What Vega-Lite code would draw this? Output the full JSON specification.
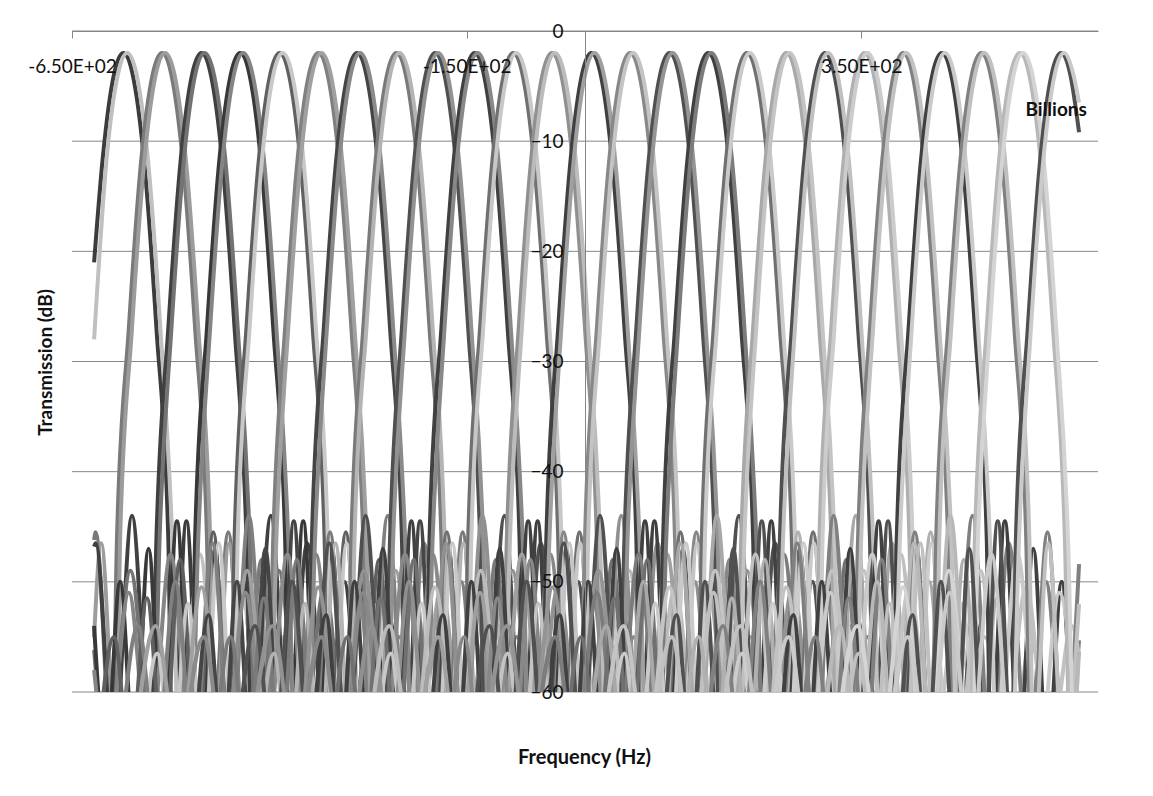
{
"$schema":"https://vega.github.io/schema/vega-lite/v6.json",
"width":1026,"height":661,
"autosize":{"type":"none"},
"padding":{"left":72,"top":31,"right":55,"bottom":104},
"background":"#ffffff",
"config":{"view":{"stroke":null},"font":"Lato"},
"layer":[
{"data":{"values":[{"g":0},{"g":-10},{"g":-20},{"g":-30},{"g":-40},{"g":-50},{"g":-60}]},
"mark":{"type":"rule","color":"#868686","strokeWidth":1},
"encoding":{"y":{"field":"g","type":"quantitative"}}},
{"data":{"values":[
{"s":0,"x":-622,"y":-21},{"s":0,"x":-611,"y":-11.5},{"s":0,"x":-597,"y":-4},{"s":0,"x":-585,"y":-2},{"s":0,"x":-573,"y":-4},{"s":0,"x":-559,"y":-11.5},{"s":0,"x":-543,"y":-27},{"s":0,"x":-528,"y":-46},{"s":0,"x":-523,"y":-66},{"s":0,"x":-505,"y":-44.5},{"s":0,"x":-487,"y":-66},{"s":0,"x":-469,"y":-47},{"s":0,"x":-451,"y":-66},{"s":0,"x":-433,"y":-50},{"s":0,"x":-415,"y":-66},{"s":0,"x":-397,"y":-53},{"s":0,"x":-379,"y":-66},
{"s":1,"x":-622,"y":-28},{"s":1,"x":-606,"y":-11.5},{"s":1,"x":-592,"y":-4},{"s":1,"x":-580,"y":-2},{"s":1,"x":-568,"y":-4},{"s":1,"x":-554,"y":-11.5},{"s":1,"x":-538,"y":-27},{"s":1,"x":-523,"y":-46},{"s":1,"x":-514,"y":-66},{"s":1,"x":-488,"y":-47.5},{"s":1,"x":-461,"y":-66},{"s":1,"x":-435,"y":-51},{"s":1,"x":-408,"y":-66},{"s":1,"x":-382,"y":-55},{"s":1,"x":-355,"y":-66},
{"s":2,"x":-622,"y":-46.2},{"s":2,"x":-620,"y":-45.5},{"s":2,"x":-599,"y":-66},{"s":2,"x":-593,"y":-46},{"s":2,"x":-578,"y":-27},{"s":2,"x":-562,"y":-11.5},{"s":2,"x":-548,"y":-4},{"s":2,"x":-536,"y":-2},{"s":2,"x":-524,"y":-4},{"s":2,"x":-510,"y":-11.5},{"s":2,"x":-494,"y":-27},{"s":2,"x":-479,"y":-46},{"s":2,"x":-473,"y":-66},{"s":2,"x":-452,"y":-45.5},{"s":2,"x":-431,"y":-66},{"s":2,"x":-410,"y":-48},{"s":2,"x":-389,"y":-66},{"s":2,"x":-368,"y":-51.5},{"s":2,"x":-347,"y":-66},{"s":2,"x":-326,"y":-55},{"s":2,"x":-305,"y":-66},
{"s":3,"x":-622,"y":-55},{"s":3,"x":-613,"y":-46.5},{"s":3,"x":-594,"y":-66},{"s":3,"x":-589,"y":-46},{"s":3,"x":-574,"y":-27},{"s":3,"x":-558,"y":-11.5},{"s":3,"x":-544,"y":-4},{"s":3,"x":-532,"y":-2},{"s":3,"x":-520,"y":-4},{"s":3,"x":-506,"y":-11.5},{"s":3,"x":-490,"y":-27},{"s":3,"x":-475,"y":-46},{"s":3,"x":-470,"y":-66},{"s":3,"x":-451,"y":-46.5},{"s":3,"x":-431,"y":-66},{"s":3,"x":-412,"y":-52},{"s":3,"x":-392,"y":-66},{"s":3,"x":-373,"y":-56.5},{"s":3,"x":-353,"y":-66},
{"s":4,"x":-622,"y":-46.8},{"s":4,"x":-620,"y":-46.5},{"s":4,"x":-597,"y":-66},{"s":4,"x":-574,"y":-44},{"s":4,"x":-550,"y":-66},{"s":4,"x":-543,"y":-46},{"s":4,"x":-528,"y":-27},{"s":4,"x":-512,"y":-11.5},{"s":4,"x":-498,"y":-4},{"s":4,"x":-486,"y":-2},{"s":4,"x":-474,"y":-4},{"s":4,"x":-460,"y":-11.5},{"s":4,"x":-444,"y":-27},{"s":4,"x":-429,"y":-46},{"s":4,"x":-422,"y":-66},{"s":4,"x":-398,"y":-44},{"s":4,"x":-375,"y":-66},{"s":4,"x":-352,"y":-46.5},{"s":4,"x":-328,"y":-66},{"s":4,"x":-305,"y":-50},{"s":4,"x":-281,"y":-66},{"s":4,"x":-258,"y":-54},{"s":4,"x":-234,"y":-66},
{"s":5,"x":-622,"y":-56.2},{"s":5,"x":-605,"y":-66},{"s":5,"x":-576,"y":-49},{"s":5,"x":-547,"y":-66},{"s":5,"x":-539,"y":-46},{"s":5,"x":-524,"y":-27},{"s":5,"x":-508,"y":-11.5},{"s":5,"x":-494,"y":-4},{"s":5,"x":-482,"y":-2},{"s":5,"x":-470,"y":-4},{"s":5,"x":-456,"y":-11.5},{"s":5,"x":-440,"y":-27},{"s":5,"x":-425,"y":-46},{"s":5,"x":-417,"y":-66},{"s":5,"x":-388,"y":-49},{"s":5,"x":-359,"y":-66},{"s":5,"x":-330,"y":-50.5},{"s":5,"x":-301,"y":-66},{"s":5,"x":-272,"y":-54},{"s":5,"x":-243,"y":-66},
{"s":6,"x":-622,"y":-54},{"s":6,"x":-607,"y":-66},{"s":6,"x":-589,"y":-50},{"s":6,"x":-571,"y":-66},{"s":6,"x":-553,"y":-47},{"s":6,"x":-535,"y":-66},{"s":6,"x":-517,"y":-44.5},{"s":6,"x":-499,"y":-66},{"s":6,"x":-494,"y":-46},{"s":6,"x":-479,"y":-27},{"s":6,"x":-463,"y":-11.5},{"s":6,"x":-449,"y":-4},{"s":6,"x":-437,"y":-2},{"s":6,"x":-425,"y":-4},{"s":6,"x":-411,"y":-11.5},{"s":6,"x":-395,"y":-27},{"s":6,"x":-380,"y":-46},{"s":6,"x":-375,"y":-66},{"s":6,"x":-357,"y":-44.5},{"s":6,"x":-339,"y":-66},{"s":6,"x":-321,"y":-47},{"s":6,"x":-303,"y":-66},{"s":6,"x":-285,"y":-50},{"s":6,"x":-267,"y":-66},{"s":6,"x":-249,"y":-53},{"s":6,"x":-231,"y":-66},
{"s":7,"x":-622,"y":-58},{"s":7,"x":-605,"y":-66},{"s":7,"x":-578,"y":-51},{"s":7,"x":-552,"y":-66},{"s":7,"x":-525,"y":-47.5},{"s":7,"x":-499,"y":-66},{"s":7,"x":-490,"y":-46},{"s":7,"x":-475,"y":-27},{"s":7,"x":-459,"y":-11.5},{"s":7,"x":-445,"y":-4},{"s":7,"x":-433,"y":-2},{"s":7,"x":-421,"y":-4},{"s":7,"x":-407,"y":-11.5},{"s":7,"x":-391,"y":-27},{"s":7,"x":-376,"y":-46},{"s":7,"x":-367,"y":-66},{"s":7,"x":-341,"y":-47.5},{"s":7,"x":-314,"y":-66},{"s":7,"x":-288,"y":-51},{"s":7,"x":-261,"y":-66},{"s":7,"x":-235,"y":-55},{"s":7,"x":-208,"y":-66},
{"s":8,"x":-618,"y":-66},{"s":8,"x":-597,"y":-55},{"s":8,"x":-576,"y":-66},{"s":8,"x":-555,"y":-51.5},{"s":8,"x":-534,"y":-66},{"s":8,"x":-513,"y":-48},{"s":8,"x":-492,"y":-66},{"s":8,"x":-471,"y":-45.5},{"s":8,"x":-450,"y":-66},{"s":8,"x":-444,"y":-46},{"s":8,"x":-429,"y":-27},{"s":8,"x":-413,"y":-11.5},{"s":8,"x":-399,"y":-4},{"s":8,"x":-387,"y":-2},{"s":8,"x":-375,"y":-4},{"s":8,"x":-361,"y":-11.5},{"s":8,"x":-345,"y":-27},{"s":8,"x":-330,"y":-46},{"s":8,"x":-324,"y":-66},{"s":8,"x":-303,"y":-45.5},{"s":8,"x":-282,"y":-66},{"s":8,"x":-261,"y":-48},{"s":8,"x":-240,"y":-66},{"s":8,"x":-219,"y":-51.5},{"s":8,"x":-198,"y":-66},{"s":8,"x":-177,"y":-55},{"s":8,"x":-156,"y":-66},
{"s":9,"x":-562,"y":-66},{"s":9,"x":-542,"y":-56.5},{"s":9,"x":-523,"y":-66},{"s":9,"x":-503,"y":-52},{"s":9,"x":-484,"y":-66},{"s":9,"x":-464,"y":-46.5},{"s":9,"x":-445,"y":-66},{"s":9,"x":-440,"y":-46},{"s":9,"x":-425,"y":-27},{"s":9,"x":-409,"y":-11.5},{"s":9,"x":-395,"y":-4},{"s":9,"x":-383,"y":-2},{"s":9,"x":-371,"y":-4},{"s":9,"x":-357,"y":-11.5},{"s":9,"x":-341,"y":-27},{"s":9,"x":-326,"y":-46},{"s":9,"x":-321,"y":-66},{"s":9,"x":-302,"y":-46.5},{"s":9,"x":-282,"y":-66},{"s":9,"x":-263,"y":-52},{"s":9,"x":-243,"y":-66},{"s":9,"x":-224,"y":-56.5},{"s":9,"x":-204,"y":-66},
{"s":10,"x":-590,"y":-66},{"s":10,"x":-566,"y":-54},{"s":10,"x":-543,"y":-66},{"s":10,"x":-519,"y":-50},{"s":10,"x":-496,"y":-66},{"s":10,"x":-472,"y":-46.5},{"s":10,"x":-449,"y":-66},{"s":10,"x":-426,"y":-44},{"s":10,"x":-402,"y":-66},{"s":10,"x":-395,"y":-46},{"s":10,"x":-380,"y":-27},{"s":10,"x":-364,"y":-11.5},{"s":10,"x":-350,"y":-4},{"s":10,"x":-338,"y":-2},{"s":10,"x":-326,"y":-4},{"s":10,"x":-312,"y":-11.5},{"s":10,"x":-296,"y":-27},{"s":10,"x":-281,"y":-46},{"s":10,"x":-274,"y":-66},{"s":10,"x":-250,"y":-44},{"s":10,"x":-227,"y":-66},{"s":10,"x":-204,"y":-46.5},{"s":10,"x":-180,"y":-66},{"s":10,"x":-157,"y":-50},{"s":10,"x":-133,"y":-66},{"s":10,"x":-110,"y":-54},{"s":10,"x":-86,"y":-66},
{"s":11,"x":-573,"y":-66},{"s":11,"x":-544,"y":-54},{"s":11,"x":-515,"y":-66},{"s":11,"x":-486,"y":-50.5},{"s":11,"x":-457,"y":-66},{"s":11,"x":-428,"y":-49},{"s":11,"x":-399,"y":-66},{"s":11,"x":-391,"y":-46},{"s":11,"x":-376,"y":-27},{"s":11,"x":-360,"y":-11.5},{"s":11,"x":-346,"y":-4},{"s":11,"x":-334,"y":-2},{"s":11,"x":-322,"y":-4},{"s":11,"x":-308,"y":-11.5},{"s":11,"x":-292,"y":-27},{"s":11,"x":-277,"y":-46},{"s":11,"x":-269,"y":-66},{"s":11,"x":-240,"y":-49},{"s":11,"x":-211,"y":-66},{"s":11,"x":-182,"y":-50.5},{"s":11,"x":-153,"y":-66},{"s":11,"x":-124,"y":-54},{"s":11,"x":-95,"y":-66},
{"s":12,"x":-495,"y":-66},{"s":12,"x":-477,"y":-53},{"s":12,"x":-459,"y":-66},{"s":12,"x":-441,"y":-50},{"s":12,"x":-423,"y":-66},{"s":12,"x":-405,"y":-47},{"s":12,"x":-387,"y":-66},{"s":12,"x":-369,"y":-44.5},{"s":12,"x":-351,"y":-66},{"s":12,"x":-346,"y":-46},{"s":12,"x":-331,"y":-27},{"s":12,"x":-315,"y":-11.5},{"s":12,"x":-301,"y":-4},{"s":12,"x":-289,"y":-2},{"s":12,"x":-277,"y":-4},{"s":12,"x":-263,"y":-11.5},{"s":12,"x":-247,"y":-27},{"s":12,"x":-232,"y":-46},{"s":12,"x":-227,"y":-66},{"s":12,"x":-209,"y":-44.5},{"s":12,"x":-191,"y":-66},{"s":12,"x":-173,"y":-47},{"s":12,"x":-155,"y":-66},{"s":12,"x":-137,"y":-50},{"s":12,"x":-119,"y":-66},{"s":12,"x":-101,"y":-53},{"s":12,"x":-83,"y":-66},
{"s":13,"x":-510,"y":-66},{"s":13,"x":-483,"y":-55},{"s":13,"x":-457,"y":-66},{"s":13,"x":-430,"y":-51},{"s":13,"x":-404,"y":-66},{"s":13,"x":-377,"y":-47.5},{"s":13,"x":-351,"y":-66},{"s":13,"x":-342,"y":-46},{"s":13,"x":-327,"y":-27},{"s":13,"x":-311,"y":-11.5},{"s":13,"x":-297,"y":-4},{"s":13,"x":-285,"y":-2},{"s":13,"x":-273,"y":-4},{"s":13,"x":-259,"y":-11.5},{"s":13,"x":-243,"y":-27},{"s":13,"x":-228,"y":-46},{"s":13,"x":-219,"y":-66},{"s":13,"x":-193,"y":-47.5},{"s":13,"x":-166,"y":-66},{"s":13,"x":-140,"y":-51},{"s":13,"x":-113,"y":-66},{"s":13,"x":-87,"y":-55},{"s":13,"x":-60,"y":-66},
{"s":14,"x":-470,"y":-66},{"s":14,"x":-449,"y":-55},{"s":14,"x":-428,"y":-66},{"s":14,"x":-407,"y":-51.5},{"s":14,"x":-386,"y":-66},{"s":14,"x":-365,"y":-48},{"s":14,"x":-344,"y":-66},{"s":14,"x":-323,"y":-45.5},{"s":14,"x":-302,"y":-66},{"s":14,"x":-296,"y":-46},{"s":14,"x":-281,"y":-27},{"s":14,"x":-265,"y":-11.5},{"s":14,"x":-251,"y":-4},{"s":14,"x":-239,"y":-2},{"s":14,"x":-227,"y":-4},{"s":14,"x":-213,"y":-11.5},{"s":14,"x":-197,"y":-27},{"s":14,"x":-182,"y":-46},{"s":14,"x":-176,"y":-66},{"s":14,"x":-155,"y":-45.5},{"s":14,"x":-134,"y":-66},{"s":14,"x":-113,"y":-48},{"s":14,"x":-92,"y":-66},{"s":14,"x":-71,"y":-51.5},{"s":14,"x":-50,"y":-66},{"s":14,"x":-29,"y":-55},{"s":14,"x":-8,"y":-66},
{"s":15,"x":-414,"y":-66},{"s":15,"x":-394,"y":-56.5},{"s":15,"x":-375,"y":-66},{"s":15,"x":-355,"y":-52},{"s":15,"x":-336,"y":-66},{"s":15,"x":-316,"y":-46.5},{"s":15,"x":-297,"y":-66},{"s":15,"x":-292,"y":-46},{"s":15,"x":-277,"y":-27},{"s":15,"x":-261,"y":-11.5},{"s":15,"x":-247,"y":-4},{"s":15,"x":-235,"y":-2},{"s":15,"x":-223,"y":-4},{"s":15,"x":-209,"y":-11.5},{"s":15,"x":-193,"y":-27},{"s":15,"x":-178,"y":-46},{"s":15,"x":-173,"y":-66},{"s":15,"x":-154,"y":-46.5},{"s":15,"x":-134,"y":-66},{"s":15,"x":-115,"y":-52},{"s":15,"x":-95,"y":-66},{"s":15,"x":-76,"y":-56.5},{"s":15,"x":-56,"y":-66},
{"s":16,"x":-442,"y":-66},{"s":16,"x":-418,"y":-54},{"s":16,"x":-395,"y":-66},{"s":16,"x":-371,"y":-50},{"s":16,"x":-348,"y":-66},{"s":16,"x":-324,"y":-46.5},{"s":16,"x":-301,"y":-66},{"s":16,"x":-278,"y":-44},{"s":16,"x":-254,"y":-66},{"s":16,"x":-247,"y":-46},{"s":16,"x":-232,"y":-27},{"s":16,"x":-216,"y":-11.5},{"s":16,"x":-202,"y":-4},{"s":16,"x":-190,"y":-2},{"s":16,"x":-178,"y":-4},{"s":16,"x":-164,"y":-11.5},{"s":16,"x":-148,"y":-27},{"s":16,"x":-133,"y":-46},{"s":16,"x":-126,"y":-66},{"s":16,"x":-102,"y":-44},{"s":16,"x":-79,"y":-66},{"s":16,"x":-56,"y":-46.5},{"s":16,"x":-32,"y":-66},{"s":16,"x":-9,"y":-50},{"s":16,"x":15,"y":-66},{"s":16,"x":38,"y":-54},{"s":16,"x":62,"y":-66},
{"s":17,"x":-425,"y":-66},{"s":17,"x":-396,"y":-54},{"s":17,"x":-367,"y":-66},{"s":17,"x":-338,"y":-50.5},{"s":17,"x":-309,"y":-66},{"s":17,"x":-280,"y":-49},{"s":17,"x":-251,"y":-66},{"s":17,"x":-243,"y":-46},{"s":17,"x":-228,"y":-27},{"s":17,"x":-212,"y":-11.5},{"s":17,"x":-198,"y":-4},{"s":17,"x":-186,"y":-2},{"s":17,"x":-174,"y":-4},{"s":17,"x":-160,"y":-11.5},{"s":17,"x":-144,"y":-27},{"s":17,"x":-129,"y":-46},{"s":17,"x":-121,"y":-66},{"s":17,"x":-92,"y":-49},{"s":17,"x":-63,"y":-66},{"s":17,"x":-34,"y":-50.5},{"s":17,"x":-5,"y":-66},{"s":17,"x":24,"y":-54},{"s":17,"x":53,"y":-66},
{"s":18,"x":-346,"y":-66},{"s":18,"x":-328,"y":-53},{"s":18,"x":-310,"y":-66},{"s":18,"x":-292,"y":-50},{"s":18,"x":-274,"y":-66},{"s":18,"x":-256,"y":-47},{"s":18,"x":-238,"y":-66},{"s":18,"x":-220,"y":-44.5},{"s":18,"x":-202,"y":-66},{"s":18,"x":-197,"y":-46},{"s":18,"x":-182,"y":-27},{"s":18,"x":-166,"y":-11.5},{"s":18,"x":-152,"y":-4},{"s":18,"x":-140,"y":-2},{"s":18,"x":-128,"y":-4},{"s":18,"x":-114,"y":-11.5},{"s":18,"x":-98,"y":-27},{"s":18,"x":-83,"y":-46},{"s":18,"x":-78,"y":-66},{"s":18,"x":-60,"y":-44.5},{"s":18,"x":-42,"y":-66},{"s":18,"x":-24,"y":-47},{"s":18,"x":-6,"y":-66},{"s":18,"x":12,"y":-50},{"s":18,"x":30,"y":-66},{"s":18,"x":48,"y":-53},{"s":18,"x":66,"y":-66},
{"s":19,"x":-361,"y":-66},{"s":19,"x":-334,"y":-55},{"s":19,"x":-308,"y":-66},{"s":19,"x":-281,"y":-51},{"s":19,"x":-255,"y":-66},{"s":19,"x":-228,"y":-47.5},{"s":19,"x":-202,"y":-66},{"s":19,"x":-193,"y":-46},{"s":19,"x":-178,"y":-27},{"s":19,"x":-162,"y":-11.5},{"s":19,"x":-148,"y":-4},{"s":19,"x":-136,"y":-2},{"s":19,"x":-124,"y":-4},{"s":19,"x":-110,"y":-11.5},{"s":19,"x":-94,"y":-27},{"s":19,"x":-79,"y":-46},{"s":19,"x":-70,"y":-66},{"s":19,"x":-44,"y":-47.5},{"s":19,"x":-17,"y":-66},{"s":19,"x":9,"y":-51},{"s":19,"x":36,"y":-66},{"s":19,"x":62,"y":-55},{"s":19,"x":89,"y":-66},
{"s":20,"x":-322,"y":-66},{"s":20,"x":-301,"y":-55},{"s":20,"x":-280,"y":-66},{"s":20,"x":-259,"y":-51.5},{"s":20,"x":-238,"y":-66},{"s":20,"x":-217,"y":-48},{"s":20,"x":-196,"y":-66},{"s":20,"x":-175,"y":-45.5},{"s":20,"x":-154,"y":-66},{"s":20,"x":-148,"y":-46},{"s":20,"x":-133,"y":-27},{"s":20,"x":-117,"y":-11.5},{"s":20,"x":-103,"y":-4},{"s":20,"x":-91,"y":-2},{"s":20,"x":-79,"y":-4},{"s":20,"x":-65,"y":-11.5},{"s":20,"x":-49,"y":-27},{"s":20,"x":-34,"y":-46},{"s":20,"x":-28,"y":-66},{"s":20,"x":-7,"y":-45.5},{"s":20,"x":14,"y":-66},{"s":20,"x":35,"y":-48},{"s":20,"x":56,"y":-66},{"s":20,"x":77,"y":-51.5},{"s":20,"x":98,"y":-66},{"s":20,"x":119,"y":-55},{"s":20,"x":140,"y":-66},
{"s":21,"x":-266,"y":-66},{"s":21,"x":-246,"y":-56.5},{"s":21,"x":-227,"y":-66},{"s":21,"x":-207,"y":-52},{"s":21,"x":-188,"y":-66},{"s":21,"x":-168,"y":-46.5},{"s":21,"x":-149,"y":-66},{"s":21,"x":-144,"y":-46},{"s":21,"x":-129,"y":-27},{"s":21,"x":-113,"y":-11.5},{"s":21,"x":-99,"y":-4},{"s":21,"x":-87,"y":-2},{"s":21,"x":-75,"y":-4},{"s":21,"x":-61,"y":-11.5},{"s":21,"x":-45,"y":-27},{"s":21,"x":-30,"y":-46},{"s":21,"x":-25,"y":-66},{"s":21,"x":-6,"y":-46.5},{"s":21,"x":14,"y":-66},{"s":21,"x":33,"y":-52},{"s":21,"x":53,"y":-66},{"s":21,"x":72,"y":-56.5},{"s":21,"x":92,"y":-66},
{"s":22,"x":-294,"y":-66},{"s":22,"x":-270,"y":-54},{"s":22,"x":-247,"y":-66},{"s":22,"x":-223,"y":-50},{"s":22,"x":-200,"y":-66},{"s":22,"x":-176,"y":-46.5},{"s":22,"x":-153,"y":-66},{"s":22,"x":-130,"y":-44},{"s":22,"x":-106,"y":-66},{"s":22,"x":-99,"y":-46},{"s":22,"x":-84,"y":-27},{"s":22,"x":-68,"y":-11.5},{"s":22,"x":-54,"y":-4},{"s":22,"x":-42,"y":-2},{"s":22,"x":-30,"y":-4},{"s":22,"x":-16,"y":-11.5},{"s":22,"x":0,"y":-27},{"s":22,"x":15,"y":-46},{"s":22,"x":22,"y":-66},{"s":22,"x":46,"y":-44},{"s":22,"x":69,"y":-66},{"s":22,"x":92,"y":-46.5},{"s":22,"x":116,"y":-66},{"s":22,"x":139,"y":-50},{"s":22,"x":163,"y":-66},{"s":22,"x":186,"y":-54},{"s":22,"x":210,"y":-66},
{"s":23,"x":-277,"y":-66},{"s":23,"x":-248,"y":-54},{"s":23,"x":-219,"y":-66},{"s":23,"x":-190,"y":-50.5},{"s":23,"x":-161,"y":-66},{"s":23,"x":-132,"y":-49},{"s":23,"x":-103,"y":-66},{"s":23,"x":-95,"y":-46},{"s":23,"x":-80,"y":-27},{"s":23,"x":-64,"y":-11.5},{"s":23,"x":-50,"y":-4},{"s":23,"x":-38,"y":-2},{"s":23,"x":-26,"y":-4},{"s":23,"x":-12,"y":-11.5},{"s":23,"x":4,"y":-27},{"s":23,"x":19,"y":-46},{"s":23,"x":27,"y":-66},{"s":23,"x":56,"y":-49},{"s":23,"x":85,"y":-66},{"s":23,"x":114,"y":-50.5},{"s":23,"x":143,"y":-66},{"s":23,"x":172,"y":-54},{"s":23,"x":201,"y":-66},
{"s":24,"x":-198,"y":-66},{"s":24,"x":-180,"y":-53},{"s":24,"x":-162,"y":-66},{"s":24,"x":-144,"y":-50},{"s":24,"x":-126,"y":-66},{"s":24,"x":-108,"y":-47},{"s":24,"x":-90,"y":-66},{"s":24,"x":-72,"y":-44.5},{"s":24,"x":-54,"y":-66},{"s":24,"x":-49,"y":-46},{"s":24,"x":-34,"y":-27},{"s":24,"x":-18,"y":-11.5},{"s":24,"x":-4,"y":-4},{"s":24,"x":8,"y":-2},{"s":24,"x":20,"y":-4},{"s":24,"x":34,"y":-11.5},{"s":24,"x":50,"y":-27},{"s":24,"x":65,"y":-46},{"s":24,"x":70,"y":-66},{"s":24,"x":88,"y":-44.5},{"s":24,"x":106,"y":-66},{"s":24,"x":124,"y":-47},{"s":24,"x":142,"y":-66},{"s":24,"x":160,"y":-50},{"s":24,"x":178,"y":-66},{"s":24,"x":196,"y":-53},{"s":24,"x":214,"y":-66},
{"s":25,"x":-213,"y":-66},{"s":25,"x":-186,"y":-55},{"s":25,"x":-160,"y":-66},{"s":25,"x":-133,"y":-51},{"s":25,"x":-107,"y":-66},{"s":25,"x":-80,"y":-47.5},{"s":25,"x":-54,"y":-66},{"s":25,"x":-45,"y":-46},{"s":25,"x":-30,"y":-27},{"s":25,"x":-14,"y":-11.5},{"s":25,"x":0,"y":-4},{"s":25,"x":12,"y":-2},{"s":25,"x":24,"y":-4},{"s":25,"x":38,"y":-11.5},{"s":25,"x":54,"y":-27},{"s":25,"x":69,"y":-46},{"s":25,"x":78,"y":-66},{"s":25,"x":104,"y":-47.5},{"s":25,"x":131,"y":-66},{"s":25,"x":157,"y":-51},{"s":25,"x":184,"y":-66},{"s":25,"x":210,"y":-55},{"s":25,"x":237,"y":-66},
{"s":26,"x":-174,"y":-66},{"s":26,"x":-153,"y":-55},{"s":26,"x":-132,"y":-66},{"s":26,"x":-111,"y":-51.5},{"s":26,"x":-90,"y":-66},{"s":26,"x":-69,"y":-48},{"s":26,"x":-48,"y":-66},{"s":26,"x":-27,"y":-45.5},{"s":26,"x":-6,"y":-66},{"s":26,"x":0,"y":-46},{"s":26,"x":15,"y":-27},{"s":26,"x":31,"y":-11.5},{"s":26,"x":45,"y":-4},{"s":26,"x":57,"y":-2},{"s":26,"x":69,"y":-4},{"s":26,"x":83,"y":-11.5},{"s":26,"x":99,"y":-27},{"s":26,"x":114,"y":-46},{"s":26,"x":120,"y":-66},{"s":26,"x":141,"y":-45.5},{"s":26,"x":162,"y":-66},{"s":26,"x":183,"y":-48},{"s":26,"x":204,"y":-66},{"s":26,"x":225,"y":-51.5},{"s":26,"x":246,"y":-66},{"s":26,"x":267,"y":-55},{"s":26,"x":288,"y":-66},
{"s":27,"x":-118,"y":-66},{"s":27,"x":-98,"y":-56.5},{"s":27,"x":-79,"y":-66},{"s":27,"x":-59,"y":-52},{"s":27,"x":-40,"y":-66},{"s":27,"x":-20,"y":-46.5},{"s":27,"x":-1,"y":-66},{"s":27,"x":4,"y":-46},{"s":27,"x":19,"y":-27},{"s":27,"x":35,"y":-11.5},{"s":27,"x":49,"y":-4},{"s":27,"x":61,"y":-2},{"s":27,"x":73,"y":-4},{"s":27,"x":87,"y":-11.5},{"s":27,"x":103,"y":-27},{"s":27,"x":118,"y":-46},{"s":27,"x":123,"y":-66},{"s":27,"x":142,"y":-46.5},{"s":27,"x":162,"y":-66},{"s":27,"x":181,"y":-52},{"s":27,"x":201,"y":-66},{"s":27,"x":220,"y":-56.5},{"s":27,"x":240,"y":-66},
{"s":28,"x":-145,"y":-66},{"s":28,"x":-121,"y":-54},{"s":28,"x":-98,"y":-66},{"s":28,"x":-74,"y":-50},{"s":28,"x":-51,"y":-66},{"s":28,"x":-27,"y":-46.5},{"s":28,"x":-4,"y":-66},{"s":28,"x":19,"y":-44},{"s":28,"x":43,"y":-66},{"s":28,"x":50,"y":-46},{"s":28,"x":65,"y":-27},{"s":28,"x":81,"y":-11.5},{"s":28,"x":95,"y":-4},{"s":28,"x":107,"y":-2},{"s":28,"x":119,"y":-4},{"s":28,"x":133,"y":-11.5},{"s":28,"x":149,"y":-27},{"s":28,"x":164,"y":-46},{"s":28,"x":171,"y":-66},{"s":28,"x":195,"y":-44},{"s":28,"x":218,"y":-66},{"s":28,"x":241,"y":-46.5},{"s":28,"x":265,"y":-66},{"s":28,"x":288,"y":-50},{"s":28,"x":312,"y":-66},{"s":28,"x":335,"y":-54},{"s":28,"x":359,"y":-66},
{"s":29,"x":-128,"y":-66},{"s":29,"x":-99,"y":-54},{"s":29,"x":-70,"y":-66},{"s":29,"x":-41,"y":-50.5},{"s":29,"x":-12,"y":-66},{"s":29,"x":17,"y":-49},{"s":29,"x":46,"y":-66},{"s":29,"x":54,"y":-46},{"s":29,"x":69,"y":-27},{"s":29,"x":85,"y":-11.5},{"s":29,"x":99,"y":-4},{"s":29,"x":111,"y":-2},{"s":29,"x":123,"y":-4},{"s":29,"x":137,"y":-11.5},{"s":29,"x":153,"y":-27},{"s":29,"x":168,"y":-46},{"s":29,"x":176,"y":-66},{"s":29,"x":205,"y":-49},{"s":29,"x":234,"y":-66},{"s":29,"x":263,"y":-50.5},{"s":29,"x":292,"y":-66},{"s":29,"x":321,"y":-54},{"s":29,"x":350,"y":-66},
{"s":30,"x":-50,"y":-66},{"s":30,"x":-32,"y":-53},{"s":30,"x":-14,"y":-66},{"s":30,"x":4,"y":-50},{"s":30,"x":22,"y":-66},{"s":30,"x":40,"y":-47},{"s":30,"x":58,"y":-66},{"s":30,"x":76,"y":-44.5},{"s":30,"x":94,"y":-66},{"s":30,"x":99,"y":-46},{"s":30,"x":114,"y":-27},{"s":30,"x":130,"y":-11.5},{"s":30,"x":144,"y":-4},{"s":30,"x":156,"y":-2},{"s":30,"x":168,"y":-4},{"s":30,"x":182,"y":-11.5},{"s":30,"x":198,"y":-27},{"s":30,"x":213,"y":-46},{"s":30,"x":218,"y":-66},{"s":30,"x":236,"y":-44.5},{"s":30,"x":254,"y":-66},{"s":30,"x":272,"y":-47},{"s":30,"x":290,"y":-66},{"s":30,"x":308,"y":-50},{"s":30,"x":326,"y":-66},{"s":30,"x":344,"y":-53},{"s":30,"x":362,"y":-66},
{"s":31,"x":-65,"y":-66},{"s":31,"x":-38,"y":-55},{"s":31,"x":-12,"y":-66},{"s":31,"x":15,"y":-51},{"s":31,"x":41,"y":-66},{"s":31,"x":68,"y":-47.5},{"s":31,"x":94,"y":-66},{"s":31,"x":103,"y":-46},{"s":31,"x":118,"y":-27},{"s":31,"x":134,"y":-11.5},{"s":31,"x":148,"y":-4},{"s":31,"x":160,"y":-2},{"s":31,"x":172,"y":-4},{"s":31,"x":186,"y":-11.5},{"s":31,"x":202,"y":-27},{"s":31,"x":217,"y":-46},{"s":31,"x":226,"y":-66},{"s":31,"x":252,"y":-47.5},{"s":31,"x":279,"y":-66},{"s":31,"x":305,"y":-51},{"s":31,"x":332,"y":-66},{"s":31,"x":358,"y":-55},{"s":31,"x":385,"y":-66},
{"s":32,"x":-26,"y":-66},{"s":32,"x":-5,"y":-55},{"s":32,"x":16,"y":-66},{"s":32,"x":37,"y":-51.5},{"s":32,"x":58,"y":-66},{"s":32,"x":79,"y":-48},{"s":32,"x":100,"y":-66},{"s":32,"x":121,"y":-45.5},{"s":32,"x":142,"y":-66},{"s":32,"x":148,"y":-46},{"s":32,"x":163,"y":-27},{"s":32,"x":179,"y":-11.5},{"s":32,"x":193,"y":-4},{"s":32,"x":205,"y":-2},{"s":32,"x":217,"y":-4},{"s":32,"x":231,"y":-11.5},{"s":32,"x":247,"y":-27},{"s":32,"x":262,"y":-46},{"s":32,"x":268,"y":-66},{"s":32,"x":289,"y":-45.5},{"s":32,"x":310,"y":-66},{"s":32,"x":331,"y":-48},{"s":32,"x":352,"y":-66},{"s":32,"x":373,"y":-51.5},{"s":32,"x":394,"y":-66},{"s":32,"x":415,"y":-55},{"s":32,"x":436,"y":-66},
{"s":33,"x":30,"y":-66},{"s":33,"x":50,"y":-56.5},{"s":33,"x":69,"y":-66},{"s":33,"x":89,"y":-52},{"s":33,"x":108,"y":-66},{"s":33,"x":128,"y":-46.5},{"s":33,"x":147,"y":-66},{"s":33,"x":152,"y":-46},{"s":33,"x":167,"y":-27},{"s":33,"x":183,"y":-11.5},{"s":33,"x":197,"y":-4},{"s":33,"x":209,"y":-2},{"s":33,"x":221,"y":-4},{"s":33,"x":235,"y":-11.5},{"s":33,"x":251,"y":-27},{"s":33,"x":266,"y":-46},{"s":33,"x":271,"y":-66},{"s":33,"x":290,"y":-46.5},{"s":33,"x":310,"y":-66},{"s":33,"x":329,"y":-52},{"s":33,"x":349,"y":-66},{"s":33,"x":368,"y":-56.5},{"s":33,"x":388,"y":-66},
{"s":34,"x":3,"y":-66},{"s":34,"x":27,"y":-54},{"s":34,"x":50,"y":-66},{"s":34,"x":74,"y":-50},{"s":34,"x":97,"y":-66},{"s":34,"x":121,"y":-46.5},{"s":34,"x":144,"y":-66},{"s":34,"x":167,"y":-44},{"s":34,"x":191,"y":-66},{"s":34,"x":198,"y":-46},{"s":34,"x":213,"y":-27},{"s":34,"x":229,"y":-11.5},{"s":34,"x":243,"y":-4},{"s":34,"x":255,"y":-2},{"s":34,"x":267,"y":-4},{"s":34,"x":281,"y":-11.5},{"s":34,"x":297,"y":-27},{"s":34,"x":312,"y":-46},{"s":34,"x":319,"y":-66},{"s":34,"x":343,"y":-44},{"s":34,"x":366,"y":-66},{"s":34,"x":389,"y":-46.5},{"s":34,"x":413,"y":-66},{"s":34,"x":436,"y":-50},{"s":34,"x":460,"y":-66},{"s":34,"x":483,"y":-54},{"s":34,"x":507,"y":-66},
{"s":35,"x":20,"y":-66},{"s":35,"x":49,"y":-54},{"s":35,"x":78,"y":-66},{"s":35,"x":107,"y":-50.5},{"s":35,"x":136,"y":-66},{"s":35,"x":165,"y":-49},{"s":35,"x":194,"y":-66},{"s":35,"x":202,"y":-46},{"s":35,"x":217,"y":-27},{"s":35,"x":233,"y":-11.5},{"s":35,"x":247,"y":-4},{"s":35,"x":259,"y":-2},{"s":35,"x":271,"y":-4},{"s":35,"x":285,"y":-11.5},{"s":35,"x":301,"y":-27},{"s":35,"x":316,"y":-46},{"s":35,"x":324,"y":-66},{"s":35,"x":353,"y":-49},{"s":35,"x":382,"y":-66},{"s":35,"x":411,"y":-50.5},{"s":35,"x":440,"y":-66},{"s":35,"x":469,"y":-54},{"s":35,"x":498,"y":-66},
{"s":36,"x":98,"y":-66},{"s":36,"x":116,"y":-53},{"s":36,"x":134,"y":-66},{"s":36,"x":152,"y":-50},{"s":36,"x":170,"y":-66},{"s":36,"x":188,"y":-47},{"s":36,"x":206,"y":-66},{"s":36,"x":224,"y":-44.5},{"s":36,"x":242,"y":-66},{"s":36,"x":247,"y":-46},{"s":36,"x":262,"y":-27},{"s":36,"x":278,"y":-11.5},{"s":36,"x":292,"y":-4},{"s":36,"x":304,"y":-2},{"s":36,"x":316,"y":-4},{"s":36,"x":330,"y":-11.5},{"s":36,"x":346,"y":-27},{"s":36,"x":361,"y":-46},{"s":36,"x":366,"y":-66},{"s":36,"x":384,"y":-44.5},{"s":36,"x":402,"y":-66},{"s":36,"x":420,"y":-47},{"s":36,"x":438,"y":-66},{"s":36,"x":456,"y":-50},{"s":36,"x":474,"y":-66},{"s":36,"x":492,"y":-53},{"s":36,"x":510,"y":-66},
{"s":37,"x":83,"y":-66},{"s":37,"x":110,"y":-55},{"s":37,"x":136,"y":-66},{"s":37,"x":163,"y":-51},{"s":37,"x":189,"y":-66},{"s":37,"x":216,"y":-47.5},{"s":37,"x":242,"y":-66},{"s":37,"x":251,"y":-46},{"s":37,"x":266,"y":-27},{"s":37,"x":282,"y":-11.5},{"s":37,"x":296,"y":-4},{"s":37,"x":308,"y":-2},{"s":37,"x":320,"y":-4},{"s":37,"x":334,"y":-11.5},{"s":37,"x":350,"y":-27},{"s":37,"x":365,"y":-46},{"s":37,"x":374,"y":-66},{"s":37,"x":400,"y":-47.5},{"s":37,"x":427,"y":-66},{"s":37,"x":453,"y":-51},{"s":37,"x":480,"y":-66},{"s":37,"x":506,"y":-55},{"s":37,"x":533,"y":-66},
{"s":38,"x":123,"y":-66},{"s":38,"x":144,"y":-55},{"s":38,"x":165,"y":-66},{"s":38,"x":186,"y":-51.5},{"s":38,"x":207,"y":-66},{"s":38,"x":228,"y":-48},{"s":38,"x":249,"y":-66},{"s":38,"x":270,"y":-45.5},{"s":38,"x":291,"y":-66},{"s":38,"x":297,"y":-46},{"s":38,"x":312,"y":-27},{"s":38,"x":328,"y":-11.5},{"s":38,"x":342,"y":-4},{"s":38,"x":354,"y":-2},{"s":38,"x":366,"y":-4},{"s":38,"x":380,"y":-11.5},{"s":38,"x":396,"y":-27},{"s":38,"x":411,"y":-46},{"s":38,"x":417,"y":-66},{"s":38,"x":438,"y":-45.5},{"s":38,"x":459,"y":-66},{"s":38,"x":480,"y":-48},{"s":38,"x":501,"y":-66},{"s":38,"x":522,"y":-51.5},{"s":38,"x":543,"y":-66},{"s":38,"x":564,"y":-55},{"s":38,"x":585,"y":-66},
{"s":39,"x":179,"y":-66},{"s":39,"x":199,"y":-56.5},{"s":39,"x":218,"y":-66},{"s":39,"x":238,"y":-52},{"s":39,"x":257,"y":-66},{"s":39,"x":277,"y":-46.5},{"s":39,"x":296,"y":-66},{"s":39,"x":301,"y":-46},{"s":39,"x":316,"y":-27},{"s":39,"x":332,"y":-11.5},{"s":39,"x":346,"y":-4},{"s":39,"x":358,"y":-2},{"s":39,"x":370,"y":-4},{"s":39,"x":384,"y":-11.5},{"s":39,"x":400,"y":-27},{"s":39,"x":415,"y":-46},{"s":39,"x":420,"y":-66},{"s":39,"x":439,"y":-46.5},{"s":39,"x":459,"y":-66},{"s":39,"x":478,"y":-52},{"s":39,"x":498,"y":-66},{"s":39,"x":517,"y":-56.5},{"s":39,"x":537,"y":-66},
{"s":40,"x":151,"y":-66},{"s":40,"x":175,"y":-54},{"s":40,"x":198,"y":-66},{"s":40,"x":222,"y":-50},{"s":40,"x":245,"y":-66},{"s":40,"x":269,"y":-46.5},{"s":40,"x":292,"y":-66},{"s":40,"x":315,"y":-44},{"s":40,"x":339,"y":-66},{"s":40,"x":346,"y":-46},{"s":40,"x":361,"y":-27},{"s":40,"x":377,"y":-11.5},{"s":40,"x":391,"y":-4},{"s":40,"x":403,"y":-2},{"s":40,"x":415,"y":-4},{"s":40,"x":429,"y":-11.5},{"s":40,"x":445,"y":-27},{"s":40,"x":460,"y":-46},{"s":40,"x":467,"y":-66},{"s":40,"x":491,"y":-44},{"s":40,"x":514,"y":-66},{"s":40,"x":537,"y":-46.5},{"s":40,"x":561,"y":-66},{"s":40,"x":584,"y":-50},{"s":40,"x":608,"y":-66},{"s":40,"x":626,"y":-55.3},
{"s":41,"x":168,"y":-66},{"s":41,"x":197,"y":-54},{"s":41,"x":226,"y":-66},{"s":41,"x":255,"y":-50.5},{"s":41,"x":284,"y":-66},{"s":41,"x":313,"y":-49},{"s":41,"x":342,"y":-66},{"s":41,"x":350,"y":-46},{"s":41,"x":365,"y":-27},{"s":41,"x":381,"y":-11.5},{"s":41,"x":395,"y":-4},{"s":41,"x":407,"y":-2},{"s":41,"x":419,"y":-4},{"s":41,"x":433,"y":-11.5},{"s":41,"x":449,"y":-27},{"s":41,"x":464,"y":-46},{"s":41,"x":472,"y":-66},{"s":41,"x":501,"y":-49},{"s":41,"x":530,"y":-66},{"s":41,"x":559,"y":-50.5},{"s":41,"x":588,"y":-66},{"s":41,"x":617,"y":-54},{"s":41,"x":626,"y":-56.8},
{"s":42,"x":246,"y":-66},{"s":42,"x":264,"y":-53},{"s":42,"x":282,"y":-66},{"s":42,"x":300,"y":-50},{"s":42,"x":318,"y":-66},{"s":42,"x":336,"y":-47},{"s":42,"x":354,"y":-66},{"s":42,"x":372,"y":-44.5},{"s":42,"x":390,"y":-66},{"s":42,"x":395,"y":-46},{"s":42,"x":410,"y":-27},{"s":42,"x":426,"y":-11.5},{"s":42,"x":440,"y":-4},{"s":42,"x":452,"y":-2},{"s":42,"x":464,"y":-4},{"s":42,"x":478,"y":-11.5},{"s":42,"x":494,"y":-27},{"s":42,"x":509,"y":-46},{"s":42,"x":514,"y":-66},{"s":42,"x":532,"y":-44.5},{"s":42,"x":550,"y":-66},{"s":42,"x":568,"y":-47},{"s":42,"x":586,"y":-66},{"s":42,"x":604,"y":-50},{"s":42,"x":622,"y":-66},{"s":42,"x":626,"y":-64.3},
{"s":43,"x":231,"y":-66},{"s":43,"x":258,"y":-55},{"s":43,"x":284,"y":-66},{"s":43,"x":311,"y":-51},{"s":43,"x":337,"y":-66},{"s":43,"x":364,"y":-47.5},{"s":43,"x":390,"y":-66},{"s":43,"x":399,"y":-46},{"s":43,"x":414,"y":-27},{"s":43,"x":430,"y":-11.5},{"s":43,"x":444,"y":-4},{"s":43,"x":456,"y":-2},{"s":43,"x":468,"y":-4},{"s":43,"x":482,"y":-11.5},{"s":43,"x":498,"y":-27},{"s":43,"x":513,"y":-46},{"s":43,"x":522,"y":-66},{"s":43,"x":548,"y":-47.5},{"s":43,"x":575,"y":-66},{"s":43,"x":601,"y":-51},{"s":43,"x":626,"y":-65.7},
{"s":44,"x":271,"y":-66},{"s":44,"x":292,"y":-55},{"s":44,"x":313,"y":-66},{"s":44,"x":334,"y":-51.5},{"s":44,"x":355,"y":-66},{"s":44,"x":376,"y":-48},{"s":44,"x":397,"y":-66},{"s":44,"x":418,"y":-45.5},{"s":44,"x":439,"y":-66},{"s":44,"x":445,"y":-46},{"s":44,"x":460,"y":-27},{"s":44,"x":476,"y":-11.5},{"s":44,"x":490,"y":-4},{"s":44,"x":502,"y":-2},{"s":44,"x":514,"y":-4},{"s":44,"x":528,"y":-11.5},{"s":44,"x":544,"y":-27},{"s":44,"x":559,"y":-46},{"s":44,"x":565,"y":-66},{"s":44,"x":586,"y":-45.5},{"s":44,"x":607,"y":-66},{"s":44,"x":626,"y":-48.4},
{"s":45,"x":327,"y":-66},{"s":45,"x":347,"y":-56.5},{"s":45,"x":366,"y":-66},{"s":45,"x":386,"y":-52},{"s":45,"x":405,"y":-66},{"s":45,"x":425,"y":-46.5},{"s":45,"x":444,"y":-66},{"s":45,"x":449,"y":-46},{"s":45,"x":464,"y":-27},{"s":45,"x":480,"y":-11.5},{"s":45,"x":494,"y":-4},{"s":45,"x":506,"y":-2},{"s":45,"x":518,"y":-4},{"s":45,"x":532,"y":-11.5},{"s":45,"x":548,"y":-27},{"s":45,"x":563,"y":-46},{"s":45,"x":568,"y":-66},{"s":45,"x":587,"y":-46.5},{"s":45,"x":607,"y":-66},{"s":45,"x":626,"y":-52},
{"s":46,"x":299,"y":-66},{"s":46,"x":323,"y":-54},{"s":46,"x":346,"y":-66},{"s":46,"x":370,"y":-50},{"s":46,"x":393,"y":-66},{"s":46,"x":417,"y":-46.5},{"s":46,"x":440,"y":-66},{"s":46,"x":463,"y":-44},{"s":46,"x":487,"y":-66},{"s":46,"x":494,"y":-46},{"s":46,"x":509,"y":-27},{"s":46,"x":525,"y":-11.5},{"s":46,"x":539,"y":-4},{"s":46,"x":551,"y":-2},{"s":46,"x":563,"y":-4},{"s":46,"x":577,"y":-11.5},{"s":46,"x":593,"y":-27},{"s":46,"x":608,"y":-46},{"s":46,"x":615,"y":-66},{"s":46,"x":626,"y":-56.3},
{"s":47,"x":316,"y":-66},{"s":47,"x":345,"y":-54},{"s":47,"x":374,"y":-66},{"s":47,"x":403,"y":-50.5},{"s":47,"x":432,"y":-66},{"s":47,"x":461,"y":-49},{"s":47,"x":490,"y":-66},{"s":47,"x":498,"y":-46},{"s":47,"x":513,"y":-27},{"s":47,"x":529,"y":-11.5},{"s":47,"x":543,"y":-4},{"s":47,"x":555,"y":-2},{"s":47,"x":567,"y":-4},{"s":47,"x":581,"y":-11.5},{"s":47,"x":597,"y":-27},{"s":47,"x":612,"y":-46},{"s":47,"x":620,"y":-66},{"s":47,"x":626,"y":-64.1},
{"s":48,"x":397,"y":-66},{"s":48,"x":415,"y":-53},{"s":48,"x":433,"y":-66},{"s":48,"x":451,"y":-50},{"s":48,"x":469,"y":-66},{"s":48,"x":487,"y":-47},{"s":48,"x":505,"y":-66},{"s":48,"x":523,"y":-44.5},{"s":48,"x":541,"y":-66},{"s":48,"x":546,"y":-46},{"s":48,"x":561,"y":-27},{"s":48,"x":577,"y":-11.5},{"s":48,"x":591,"y":-4},{"s":48,"x":603,"y":-2},{"s":48,"x":615,"y":-4},{"s":48,"x":626,"y":-9.2},
{"s":49,"x":382,"y":-66},{"s":49,"x":409,"y":-55},{"s":49,"x":435,"y":-66},{"s":49,"x":462,"y":-51},{"s":49,"x":488,"y":-66},{"s":49,"x":515,"y":-47.5},{"s":49,"x":541,"y":-66},{"s":49,"x":550,"y":-46},{"s":49,"x":565,"y":-27},{"s":49,"x":581,"y":-11.5},{"s":49,"x":595,"y":-4},{"s":49,"x":607,"y":-2},{"s":49,"x":619,"y":-4},{"s":49,"x":626,"y":-6.5}
]},
"mark":{"type":"line","interpolate":"monotone","strokeWidth":4,"strokeJoin":"round","clip":true},
"encoding":{
"x":{"field":"x","type":"quantitative","scale":{"domain":[-650,650],"nice":false,"zero":false},
 "axis":{"orient":"bottom","offset":-661,"values":[-650,-150,350],
 "labelExpr":"datum.value == -650 ? '-6.50E+02' : (datum.value == -150 ? '-1.50E+02' : '3.50E+02')",
 "grid":false,"domainColor":"#868686","tickColor":"#868686","tickSize":7,"labelPadding":19,
 "labelFont":"Lato","labelFontSize":19,"labelColor":"#111111","labelFlush":false,"labelOverlap":false,"zindex":1,
 "title":"Frequency (Hz)","titleFont":"Lato","titleFontSize":20,"titleFontWeight":"bold","titleColor":"#111111",
 "titleX":512,"titleY":726,"titleBaseline":"middle","titleAlign":"center"}},
"y":{"field":"y","type":"quantitative","scale":{"domain":[-60,0],"nice":false},
 "axis":{"orient":"left","offset":-513,"values":[0,-10,-20,-30,-40,-50,-60],
 "grid":false,"domainColor":"#868686","ticks":false,"labelPadding":22,
 "labelFont":"Lato","labelFontSize":19,"labelColor":"#111111","labelBaseline":"middle","zindex":1,
 "title":"Transmission (dB)","titleFont":"Lato","titleFontSize":19,"titleFontWeight":"bold","titleColor":"#111111",
 "titleX":-540,"titleY":331,"titleAngle":-90,"titleAlign":"center","titleBaseline":"middle"}},
"color":{"field":"s","type":"nominal","legend":null,
 "scale":{"domain":[0,1,2,3,4,5,6,7,8,9,10,11,12,13,14,15,16,17,18,19,20,21,22,23,24,25,26,27,28,29,30,31,32,33,34,35,36,37,38,39,40,41,42,43,44,45,46,47,48,49],
 "range":["#3c3c3c","#c0c0c0","#7a7a7a","#9c9c9c","#404040","#737373","#383838","#858585","#606060","#c8c8c8","#808080","#a0a0a0","#454545","#8a8a8a","#7a7a7a","#b4b4b4","#505050","#929292","#404040","#888888","#707070","#c8c8c8","#909090","#bcbcbc","#404040","#a0a0a0","#888888","#c4c4c4","#505050","#949494","#404040","#7c7c7c","#707070","#cacaca","#a8a8a8","#c4c4c4","#505050","#c0c0c0","#b0b0b0","#cccccc","#808080","#c2c2c2","#404040","#cacaca","#808080","#c0c0c0","#b8b8b8","#d4d4d4","#505050","#cacaca"]}}
}},
{"data":{"values":[{"x":597,"y":-7.2,"t":"Billions"}]},
"mark":{"type":"text","font":"Lato","fontSize":19,"fontWeight":"bold","color":"#111111","clip":false},
"encoding":{"x":{"field":"x","type":"quantitative"},"y":{"field":"y","type":"quantitative"},"text":{"field":"t","type":"nominal"}}}
]
}
